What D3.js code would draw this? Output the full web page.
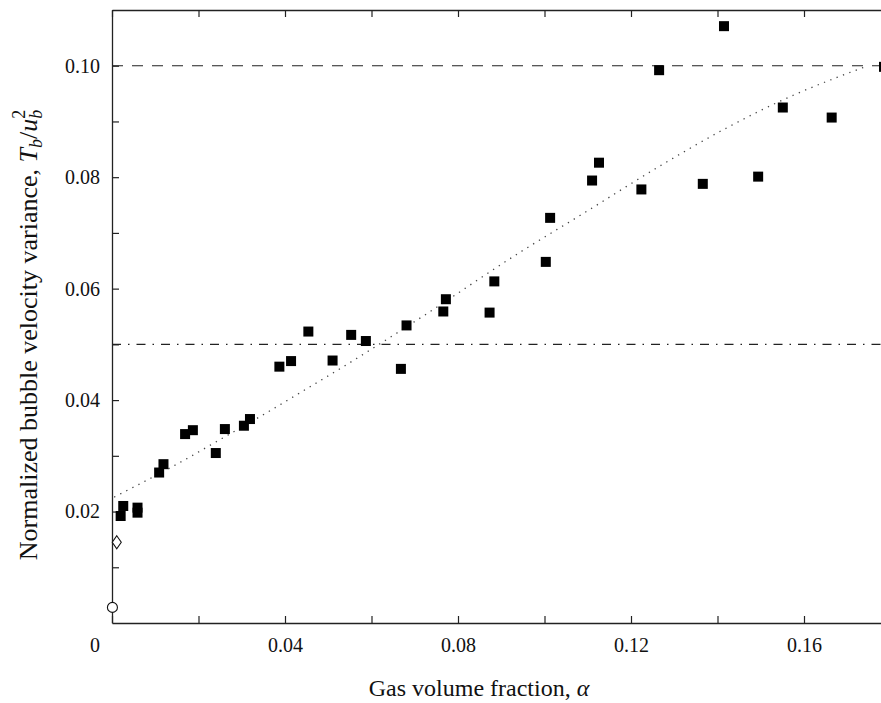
<!DOCTYPE html>
<html>
<head>
<meta charset="utf-8">
<script src="https://cdn.jsdelivr.net/npm/d3@7"></script>
<style>
  body { margin: 0; background: #fff; }
  svg { display: block; font-family: "Liberation Serif", "DejaVu Serif", serif; }
</style>
</head>
<body>
<svg id="chart"></svg>
<script>
// measured points (filled squares)
var alphaSq = [0.0020, 0.0026, 0.0059, 0.0059, 0.0109, 0.0119, 0.0169, 0.0187, 0.0240, 0.0261,
               0.0305, 0.0319, 0.0387, 0.0414, 0.0454, 0.0510, 0.0553, 0.0587, 0.0668, 0.0681,
               0.0766, 0.0772, 0.0873, 0.0884, 0.1003, 0.1013, 0.1110, 0.1126, 0.1224, 0.1265,
               0.1366, 0.1415, 0.1494, 0.1551, 0.1664, 0.1785];
var varSq   = [0.0192, 0.0210, 0.0207, 0.0198, 0.0270, 0.0285, 0.0339, 0.0346, 0.0305, 0.0348,
               0.0354, 0.0366, 0.0460, 0.0470, 0.0523, 0.0471, 0.0517, 0.0506, 0.0456, 0.0534,
               0.0559, 0.0581, 0.0557, 0.0613, 0.0648, 0.0727, 0.0794, 0.0826, 0.0778, 0.0992,
               0.0788, 0.1071, 0.0801, 0.0925, 0.0907, 0.0998];

// single points near alpha = 0
var alphaDiamond = [0.0011];
var varDiamond = [0.0145];
var alphaCircle = [0.0001];
var varCircle = [0.0028];

// dotted curve
var curveAlpha = [0.0005, 0.0143, 0.0254, 0.0348, 0.0458, 0.0535, 0.0597, 0.0658, 0.0720,
                  0.0947, 0.1092, 0.1271, 0.1413, 0.1575, 0.1676, 0.1745];
var curveVar   = [0.0226, 0.0282, 0.0331, 0.0373, 0.0424, 0.0460, 0.0490, 0.0520, 0.0551,
                  0.0667, 0.0736, 0.0822, 0.0885, 0.0947, 0.0979, 0.0999];

// horizontal reference levels
var dashedLevel = 0.10;
var dashDotLevel = 0.05;

var xTicks = [0, 0.02, 0.04, 0.06, 0.08, 0.10, 0.12, 0.14, 0.16, 0.18];
var xLabels = [0.04, 0.08, 0.12, 0.16];
var yTicks = [0.01, 0.02, 0.03, 0.04, 0.05, 0.06, 0.07, 0.08, 0.09, 0.10];
var yLabels = [0.02, 0.04, 0.06, 0.08, 0.10];

var width = 881;
var height = 703;
var pLeft = 112, pRight = 890.5, pTop = 10, pBottom = 623;

var svg = d3.select("#chart")
            .attr("width", width)
            .attr("height", height);

var x = d3.scaleLinear().domain([0, 0.18]).range([pLeft, pRight]);
var y = d3.scaleLinear().domain([0, 0.11]).range([pBottom, pTop]);

var fmt = function(d){ return d3.format(".2f")(d); };
var isIn = function(list, d){ return list.some(function(v){ return Math.abs(v - d) < 1e-9; }); };
var axisColor = "#222";

// axes
svg.append("g")
   .attr("transform", "translate(0," + pBottom + ")")
   .call(d3.axisBottom(x).tickValues(xTicks).tickSizeInner(-7).tickSizeOuter(0).tickPadding(15)
         .tickFormat(function(d){ return isIn(xLabels, d) ? fmt(d) : ""; }));
svg.append("g")
   .attr("transform", "translate(0," + pTop + ")")
   .call(d3.axisTop(x).tickValues(xTicks).tickSizeInner(-7).tickSizeOuter(0).tickFormat(""));
svg.append("g")
   .attr("transform", "translate(" + pLeft + ",0)")
   .call(d3.axisLeft(y).tickValues(yTicks).tickSizeInner(-7).tickSizeOuter(0).tickPadding(12)
         .tickFormat(function(d){ return isIn(yLabels, d) ? fmt(d) : ""; }));
svg.append("g")
   .attr("transform", "translate(" + pRight + ",0)")
   .call(d3.axisRight(y).tickValues(yTicks).tickSizeInner(-7).tickSizeOuter(0).tickFormat(""));

svg.selectAll(".domain").attr("stroke", axisColor).attr("stroke-width", 1.3);
svg.selectAll(".tick line").attr("stroke", axisColor).attr("stroke-width", 1.2);
svg.selectAll(".tick text")
   .attr("font-family", "Liberation Serif")
   .attr("font-size", "20px")
   .attr("fill", "#111");

// shared "0" at the corner
svg.append("text")
   .text("0")
   .attr("x", 95)
   .attr("y", 652)
   .attr("text-anchor", "middle")
   .attr("font-size", "20px")
   .attr("fill", "#111");

// reference lines
svg.append("line")
   .attr("x1", x(0)).attr("x2", pRight)
   .attr("y1", y(dashedLevel)).attr("y2", y(dashedLevel))
   .attr("stroke", "#222").attr("stroke-width", 1.2)
   .attr("stroke-dasharray", "11,9");
svg.append("line")
   .attr("x1", x(0)).attr("x2", pRight)
   .attr("y1", y(dashDotLevel)).attr("y2", y(dashDotLevel))
   .attr("stroke", "#222").attr("stroke-width", 1.2)
   .attr("stroke-dasharray", "9,7,1.5,7");

// dotted curve
var curveData = curveAlpha.map(function(a, i){ return [a, curveVar[i]]; });
var line = d3.line()
             .x(function(d){ return x(d[0]); })
             .y(function(d){ return y(d[1]); })
             .curve(d3.curveMonotoneX);
svg.append("path")
   .datum(curveData)
   .attr("d", line)
   .attr("fill", "none")
   .attr("stroke", "#444")
   .attr("stroke-width", 1.3)
   .attr("stroke-dasharray", "1.3,5.5");

// squares
var sqData = alphaSq.map(function(a, i){ return [a, varSq[i]]; });
var sq = 10;
svg.selectAll("rect.pt")
   .data(sqData)
   .enter()
   .append("rect")
   .attr("class", "pt")
   .attr("x", function(d){ return x(d[0]) - sq / 2; })
   .attr("y", function(d){ return y(d[1]) - sq / 2; })
   .attr("width", sq)
   .attr("height", sq)
   .attr("fill", "#000");

// open diamond
svg.selectAll("path.dia")
   .data(alphaDiamond.map(function(a, i){ return [a, varDiamond[i]]; }))
   .enter()
   .append("path")
   .attr("class", "dia")
   .attr("d", function(d){
     var cx = x(d[0]), cy = y(d[1]);
     return "M" + cx + "," + (cy - 6.5) + "L" + (cx + 4.5) + "," + cy +
            "L" + cx + "," + (cy + 6.5) + "L" + (cx - 4.5) + "," + cy + "Z";
   })
   .attr("fill", "#fff")
   .attr("stroke", "#111")
   .attr("stroke-width", 1.1);

// open circle
svg.selectAll("circle.cir")
   .data(alphaCircle.map(function(a, i){ return [a, varCircle[i]]; }))
   .enter()
   .append("circle")
   .attr("class", "cir")
   .attr("cx", function(d){ return x(d[0]); })
   .attr("cy", function(d){ return y(d[1]); })
   .attr("r", 5)
   .attr("fill", "#fff")
   .attr("stroke", "#111")
   .attr("stroke-width", 1.1);

// axis titles
svg.append("text")
   .attr("x", 479)
   .attr("y", 696)
   .attr("text-anchor", "middle")
   .attr("font-size", "24px")
   .attr("fill", "#111")
   .html("Gas volume fraction, <tspan font-style='italic'>α</tspan>");

var yt = svg.append("text")
   .attr("transform", "translate(37,335) rotate(-90)")
   .attr("text-anchor", "middle")
   .attr("font-size", "26px")
   .attr("fill", "#111");
yt.append("tspan").text("Normalized bubble velocity variance, ");
yt.append("tspan").attr("font-style", "italic").text("T");
yt.append("tspan").attr("font-style", "italic").attr("font-size", "18px").attr("dy", 5).text("b");
yt.append("tspan").attr("dy", -5).text("/");
yt.append("tspan").attr("font-style", "italic").text("u");
yt.append("tspan").attr("font-style", "italic").attr("font-size", "18px").attr("dy", 5).text("b");
yt.append("tspan").attr("font-size", "18px").attr("dx", -9).attr("dy", -17).text("2");
</script>
</body>
</html>
